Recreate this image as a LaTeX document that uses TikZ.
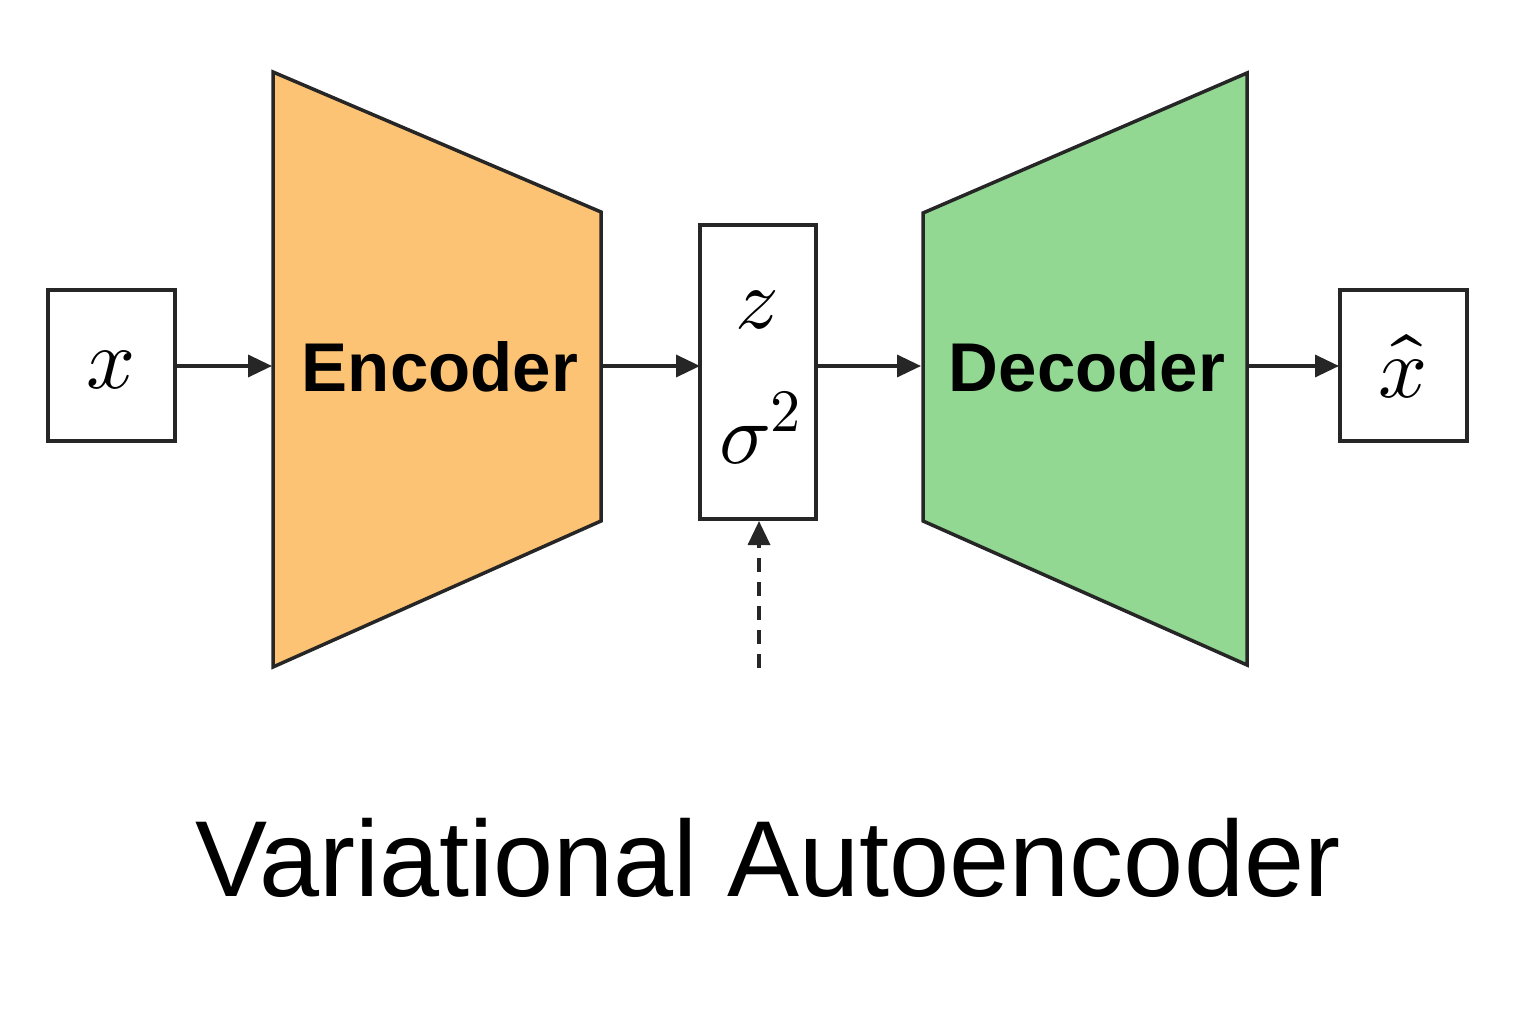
\documentclass[tikz,border=0pt]{standalone}
\usepackage{unicode-math}
\setmathfont{Latin Modern Math}
\setsansfont{Liberation Sans}
\usetikzlibrary{arrows.meta}
\definecolor{enc}{HTML}{FDC374}
\definecolor{dec}{HTML}{92D892}
\begin{document}
\begin{tikzpicture}[x=1pt,y=-1pt,
  box/.style={draw=black!85,line width=3.5pt},
  arr/.style={line width=3.5pt,draw=black!85,-{Triangle[length=24pt,width=22pt]}},
  lbl/.style={font=\fontsize{86}{90}\selectfont}]
\useasboundingbox (0,0) rectangle (1536,1024);
\draw[box] (48,290) rectangle (175,441);
\node[lbl] (x) at (111,370) {$x$};
\coordinate (xr) at (175,366);
\draw[box,fill=enc] (273,72) -- (601,212) -- (601,521) -- (273,667) -- cycle;
\node[font=\sffamily\bfseries\fontsize{69}{72}\selectfont] (enc) at (440,367) {Encoder};
\coordinate (encl) at (272,366); \coordinate (encr) at (601,366);
\draw[box] (700,225) rectangle (816,519);
\node[lbl] (z) at (757,310) {$z$};
\node[lbl] (s) at (760,428) {$\sigma^2$};
\coordinate (zl) at (700,366); \coordinate (zr) at (816,366); \coordinate (zb) at (759,521);
\draw[box,fill=dec] (923,213) -- (1247,73) -- (1247,665) -- (923,521) -- cycle;
\node[font=\sffamily\bfseries\fontsize{69}{72}\selectfont] (dec) at (1087,367) {Decoder};
\coordinate (decl) at (921,366); \coordinate (decr) at (1247,366);
\draw[box] (1340,290) rectangle (1467,441);
\node[lbl] (xh) at (1403,366) {$\hat{x}$};
\coordinate (xhl) at (1339,366);
\coordinate (noise) at (759,668);
\draw[arr] (xr) -- (encl);
\draw[arr] (encr) -- (zl);
\draw[arr] (zr) -- (decl);
\draw[arr] (decr) -- (xhl);
\draw[arr,dash pattern=on 14pt off 10pt] (noise) -- (zb);
\node[font=\sffamily\fontsize{108}{115}\selectfont] (title) at (768,858) {Variational Autoencoder};
\end{tikzpicture}
\end{document}
